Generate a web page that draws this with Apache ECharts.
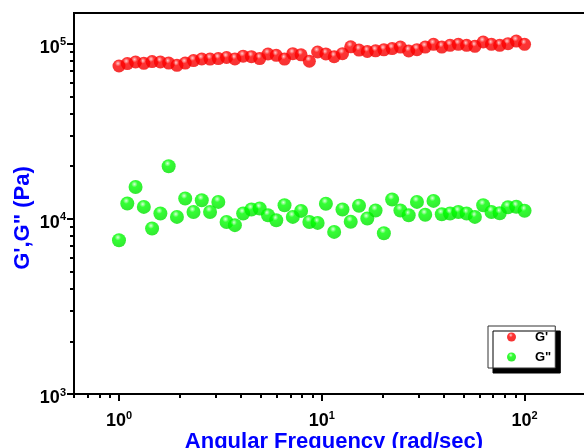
<!DOCTYPE html>
<html>
<head>
<meta charset="utf-8">
<script src="https://cdn.jsdelivr.net/npm/echarts@6/dist/echarts.min.js"></script>
<style>
  html, body { margin: 0; padding: 0; background: #fff; }
  #chart { width: 584px; height: 448px; }
</style>
</head>
<body>
<div id="chart"></div>
<script>
// Angular frequency sweep (rad/sec), log spaced from 1 to 100
const frequency = [
  1, 1.099, 1.207, 1.326, 1.456, 1.600, 1.758, 1.931, 2.121, 2.330,
  2.560, 2.812, 3.089, 3.393, 3.728, 4.095, 4.498, 4.942, 5.429, 5.964,
  6.551, 7.197, 7.906, 8.685, 9.541, 10.48, 11.51, 12.65, 13.89, 15.26,
  16.77, 18.42, 20.24, 22.23, 24.42, 26.83, 29.47, 32.37, 35.56, 39.07,
  42.92, 47.15, 51.79, 56.90, 62.51, 68.66, 75.43, 82.86, 91.03, 100
];

// Storage modulus G' (Pa)
const storageModulus = [
  74700, 77090, 78730, 77390, 79150, 78730, 77590, 75400, 77590, 80200,
  81900, 81800, 82350, 83530, 81900, 85070, 84500, 82350, 87450, 85980,
  81800, 87900, 86540, 79520, 89790, 87570, 84400, 87900, 96140, 92170,
  90380, 91200, 92420, 93890, 95880, 90980, 92660, 95880, 99340, 95880,
  98040, 99340, 98040, 96770, 102400, 99340, 98040, 100250, 103750, 99340
];

// Loss modulus G" (Pa)
const lossModulus = [
  7560, 12240, 15220, 11710, 8815, 10740, 19990, 10270, 13070, 10960,
  12790, 10960, 12510, 9610, 9210, 10740, 11320, 11470, 10500, 9830,
  11970, 10270, 11110, 9610, 9490, 12210, 8430, 11320, 9640, 11900,
  10050, 11170, 8290, 12900, 11170, 10500, 12510, 10570, 12670, 10640,
  10740, 10960, 10740, 10270, 11970, 10960, 10780, 11660, 11740, 11140
];

const seriesNames = ["G'", 'G"'];

// Axis ticks
const xMajorTicks = [1, 10, 100];
const xMinorTicks = [0.6, 0.7, 0.8, 0.9, 2, 3, 4, 5, 6, 7, 8, 9, 20, 30, 40, 50, 60, 70, 80, 90, 200];
const yMajorTicks = [1000, 10000, 100000];
const yMinorTicks = [2000, 3000, 4000, 5000, 6000, 7000, 8000, 9000,
                     20000, 30000, 40000, 50000, 60000, 70000, 80000, 90000];

const FONT = '"Liberation Sans", Arial, sans-serif';
const TITLE_BLUE = '#0000ff';

function powerLabel(v) {
  return '{b|10}{s|' + Math.round(Math.log10(v)) + '}';
}

const labelRich = {
  b: { fontFamily: FONT, fontSize: 18, fontWeight: 'bold', color: '#000', lineHeight: 22 },
  s: { fontFamily: FONT, fontSize: 11, fontWeight: 'bold', color: '#000', lineHeight: 11, verticalAlign: 'top' }
};

function ball(base, light, edge) {
  return {
    type: 'radial', x: 0.42, y: 0.3, r: 0.75,
    colorStops: [
      { offset: 0, color: light },
      { offset: 0.3, color: base },
      { offset: 1, color: edge }
    ]
  };
}

const chart = echarts.init(document.getElementById('chart'), null, { renderer: 'canvas' });

chart.setOption({
  animation: false,
  backgroundColor: '#fff',
  grid: {
    left: 74, top: 13, width: 520, height: 381,
    outerBoundsMode: 'none', containLabel: false,
    show: true, borderColor: '#000', borderWidth: 2, backgroundColor: 'transparent'
  },
  xAxis: [
    {
      type: 'log', logBase: 10, min: 0.6, max: 220, position: 'bottom',
      name: 'Angular Frequency (rad/sec)', nameLocation: 'middle', nameGap: 37, nameMoveOverlap: false,
      nameTextStyle: { fontFamily: FONT, fontSize: 22, fontWeight: 'bold', color: TITLE_BLUE },
      axisLine: { show: true, lineStyle: { color: '#000', width: 2 } },
      axisTick: { show: true, inside: false, length: 7, lineStyle: { color: '#000', width: 2 }, customValues: xMajorTicks },
      axisLabel: { show: true, margin: 16, customValues: xMajorTicks, formatter: powerLabel, rich: labelRich },
      splitLine: { show: false }
    },
    {
      type: 'log', logBase: 10, min: 0.6, max: 220, position: 'bottom',
      axisLine: { show: false },
      axisTick: { show: true, inside: false, length: 4, lineStyle: { color: '#000', width: 2 }, customValues: xMinorTicks },
      axisLabel: { show: false },
      splitLine: { show: false }
    }
  ],
  yAxis: [
    {
      type: 'log', logBase: 10, min: 1000, max: 150000, position: 'left',
      axisLine: { show: true, lineStyle: { color: '#000', width: 2 } },
      axisTick: { show: true, inside: false, length: 7, lineStyle: { color: '#000', width: 2 }, customValues: yMajorTicks },
      axisLabel: { show: true, margin: 8, padding: [8, 0, 0, 0], customValues: yMajorTicks, formatter: powerLabel, rich: labelRich },
      splitLine: { show: false }
    },
    {
      type: 'log', logBase: 10, min: 1000, max: 150000, position: 'left',
      axisLine: { show: false },
      axisTick: { show: true, inside: false, length: 4, lineStyle: { color: '#000', width: 2 }, customValues: yMinorTicks },
      axisLabel: { show: false },
      splitLine: { show: false }
    }
  ],
  legend: {
    orient: 'vertical', align: 'left', left: 488, top: 326,
    icon: 'circle', itemWidth: 9, itemHeight: 9, itemGap: 6,
    padding: [4, 4, 4, 19],
    backgroundColor: '#fff', borderColor: '#333', borderWidth: 1,
    shadowColor: '#000', shadowBlur: 0, shadowOffsetX: 5, shadowOffsetY: 5,
    textStyle: { fontFamily: FONT, fontSize: 13, fontWeight: 'bold', color: '#000', lineHeight: 14, padding: [0, 0, 0, 14] },
    data: seriesNames
  },
  graphic: [
    {
      type: 'text', x: 23, y: 218, rotation: Math.PI / 2,
      style: {
        text: 'G\',G" (Pa)', font: 'bold 22px ' + FONT, fill: TITLE_BLUE,
        align: 'center', verticalAlign: 'middle'
      }
    }
  ],
  series: [
    {
      name: seriesNames[0], type: 'scatter', xAxisIndex: 0, yAxisIndex: 0,
      symbol: 'circle', symbolSize: 13,
      itemStyle: { color: ball('#ff0000', '#ffc0c0', '#f00000') },
      data: frequency.map((f, i) => [f, storageModulus[i]])
    },
    {
      name: seriesNames[1], type: 'scatter', xAxisIndex: 0, yAxisIndex: 0,
      symbol: 'circle', symbolSize: 14,
      itemStyle: { color: ball('#00ff00', '#d0ffd0', '#00e000') },
      data: frequency.map((f, i) => [f, lossModulus[i]])
    }
  ]
});
</script>
</body>
</html>
